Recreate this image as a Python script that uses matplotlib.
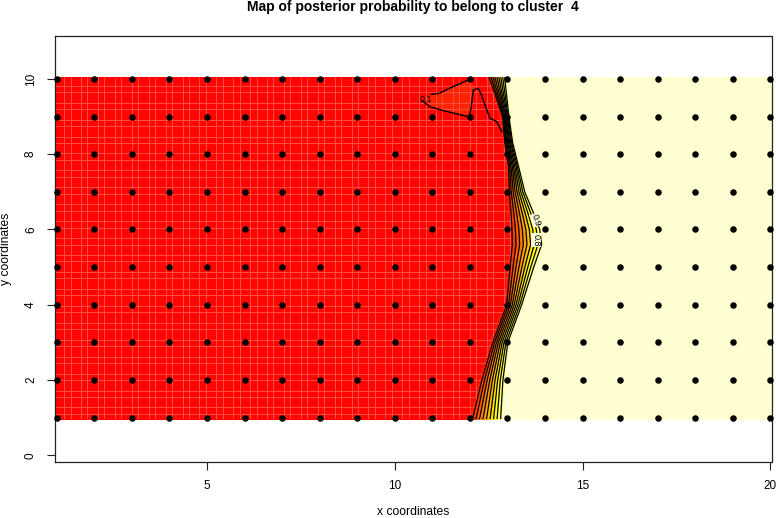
import numpy as np
from matplotlib import pyplot as plt
from matplotlib.colors import LinearSegmentedColormap
from matplotlib.patches import Polygon

plt.rcParams['font.family'] = ['Liberation Sans', 'DejaVu Sans']

W, H = 776, 518

# points of the grid
xs = list(range(1, 21))
ys = list(range(1, 11))

# x of the 0.1 and 0.9 contours, for each y
row_y = [0.96, 1, 2, 3, 4, 5, 5.6, 6, 6.35, 7, 7.66, 8.3, 9, 10, 10.05]
row_low = [12.05, 12.08, 12.32, 12.61, 12.98, 13.07, 13.13, 13.12, 13.10, 13.05, 13.03, 12.93, 12.87, 12.53, 12.50]
row_high = [12.82, 12.82, 12.88, 13.01, 13.38, 13.70, 13.91, 13.86, 13.73, 13.46, 13.30, 13.14, 13.04, 12.93, 12.93]

# the 0.1 contour at the top
loop_a_x = [10.98, 11.19, 11.45, 11.95]
loop_a_y = [9.59, 9.62, 9.75, 9.97]
loop_b_x = [10.73, 10.94, 11.29, 11.87, 11.98, 12.03, 12.09, 12.22, 12.31, 12.45, 12.53, 12.71, 12.85]
loop_b_y = [9.42, 9.26, 9.16, 9.02, 9.00, 9.22, 9.71, 9.75, 9.57, 9.18, 8.96, 8.87, 8.60]

levels = [0.1, 0.2, 0.3, 0.4, 0.5, 0.6, 0.7, 0.8, 0.9]
title = 'Map of posterior probability to belong to cluster  4'

fig = plt.figure(figsize=(W / 100, H / 100), dpi=100)
ax = fig.add_axes([55 / W, 1 - 462 / H, 716.5 / W, 426.3 / H])

# curvilinear mesh: flat red, the transition band, flat pale yellow
low = np.array(row_low)
high = np.array(row_high)
t = np.linspace(0.1, 0.9, 17)
X = np.column_stack([np.full(len(low), 0.5), low - 0.12]
                    + [low + (high - low) * (k - 0.1) / 0.8 for k in t]
                    + [high + 0.1, np.full(len(low), 20.5)])
Y = np.tile(np.array(row_y)[:, None], (1, X.shape[1]))
Z = np.tile(np.r_[0, 0, t, 1.0, 1.0], (len(row_y), 1))

heat = LinearSegmentedColormap.from_list('heat', [(0, '#ff0000'), (0.375, '#ff8000'), (0.75, '#ffff00'), (1, '#ffffdc')])
ax.contourf(X, Y, Z, levels=np.linspace(0, 1.0001, 41), cmap=heat)

# faint cell lines in the red part
red_part = Polygon(list(zip(row_low, row_y)) + [(0.5, 10.05), (0.5, 0.96)], transform=ax.transData,
                   facecolor='none', edgecolor='none')
ax.add_patch(red_part)
vx = np.arange(1.2, 13.5, 0.45)
vx = np.sort(np.r_[vx, vx + 0.17])
hy = np.arange(1.1, 10.05, 0.45)
hy = np.sort(np.r_[hy, hy + 0.17])
vl = ax.vlines(vx, 0.96, 10.05, color='#ff4d45', lw=0.7)
hl = ax.hlines(hy, 0.5, 14, color='#ff4d45', lw=0.7)
vl.set_clip_path(red_part)
hl.set_clip_path(red_part)

ax.fill(loop_b_x[:9] + loop_a_x[::-1], loop_b_y[:9] + loop_a_y[::-1], color='#ff2400', lw=0)

ax.contour(X, Y, Z, levels=levels, colors='black', linewidths=0.9)
ax.plot(loop_a_x, loop_a_y, color='black', lw=1)
ax.plot(loop_b_x, loop_b_y, color='black', lw=1)

ax.text(10.84, 9.46, '0.1', fontsize=6.5, ha='center', va='center')
box = dict(facecolor='#ffffdc', edgecolor='none', pad=0.3)
ax.text(13.76, 6.25, '0.9', fontsize=6.5, ha='center', va='center', rotation=-72, bbox=box)
ax.text(13.76, 5.72, '0.8', fontsize=6.5, ha='center', va='center', rotation=-90, bbox=box)

gx, gy = np.meshgrid(xs, ys)
ax.scatter(gx.ravel(), gy.ravel(), s=22, c='black', lw=0, zorder=5, clip_on=False)

ax.set_xlim(0.955, 20.03)
ax.set_ylim(-0.18, 11.15)
ax.set_xticks([5, 10, 15, 20])
ax.set_yticks([0, 2, 4, 6, 8, 10])
ax.tick_params(length=6, width=0.8, color='#222222', labelsize=8.5, pad=7)
for lab in ax.get_yticklabels():
    lab.set_rotation(90)
    lab.set_va('center')
for s in ax.spines.values():
    s.set_linewidth(0.9)
    s.set_color('#222222')

fig.text(413 / W, 1 - 6.5 / H, title, fontsize=10, fontweight='bold', ha='center', va='center')
fig.text(413 / W, 1 - 512 / H, 'x coordinates', fontsize=8.7, ha='center', va='center')
fig.text(6 / W, 1 - 249 / H, 'y coordinates', fontsize=8.7, ha='center', va='center', rotation=90)

fig.savefig('out.png', dpi=100)
